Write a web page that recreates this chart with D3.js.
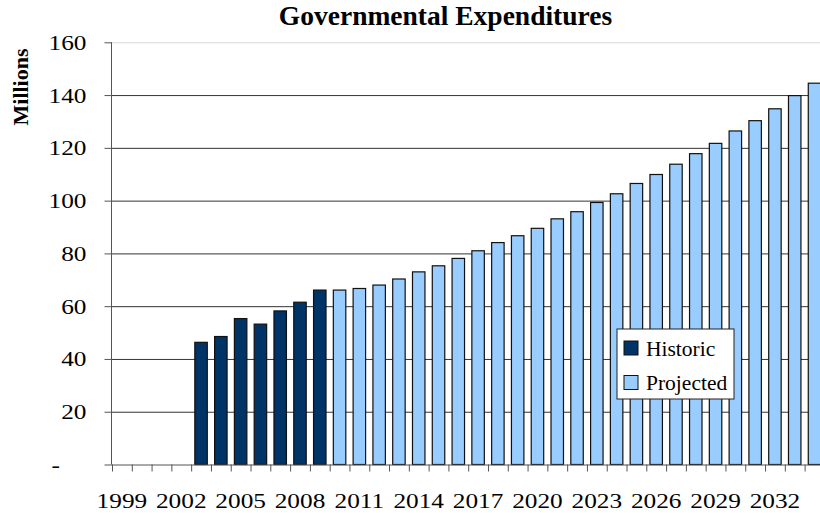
<!DOCTYPE html>
<html>
<head>
<meta charset="utf-8">
<script src="https://cdn.jsdelivr.net/npm/d3@7"></script>
<style>
  body { margin: 0; background: #fff; }
  text { font-family: "Liberation Serif", "Times New Roman", serif; fill: #000; }
</style>
</head>
<body>
<div id="chart"></div>
<script>
// data
var years = [1999, 2000, 2001, 2002, 2003, 2004, 2005, 2006, 2007, 2008, 2009,
  2010, 2011, 2012, 2013, 2014, 2015, 2016, 2017, 2018, 2019, 2020, 2021,
  2022, 2023, 2024, 2025, 2026, 2027, 2028, 2029, 2030, 2031, 2032, 2033, 2034];
var historicYears = [2003, 2004, 2005, 2006, 2007, 2008, 2009];
var historicValues = [46.3, 48.5, 55.3, 53.2, 58.2, 61.5, 66.1];
var projectedYears = [2010, 2011, 2012, 2013, 2014, 2015, 2016, 2017, 2018, 2019,
  2020, 2021, 2022, 2023, 2024, 2025, 2026, 2027, 2028, 2029,
  2030, 2031, 2032, 2033, 2034];
var projectedValues = [66.1, 66.7, 68.0, 70.3, 73.0, 75.3, 78.1, 81.0, 84.1, 86.7,
  89.5, 93.1, 95.8, 99.3, 102.6, 106.5, 109.9, 113.8, 117.8, 121.7,
  126.4, 130.3, 134.8, 139.8, 144.5];
var yTicks = [0, 20, 40, 60, 80, 100, 120, 140, 160];
var xLabelYears = [1999, 2002, 2005, 2008, 2011, 2014, 2017, 2020, 2023, 2026, 2029, 2032];

var svgWidth = 820;
var svgHeight = 513;
var margin = { top: 42.3, left: 112 };
var chartWidth = 712.4;
var chartHeight = 464.5 - margin.top;
var tickFont = 22;
var stretch = 1.15; // tick labels in the picture are a bit wide

var svg = d3.select("#chart")
  .append("svg")
  .attr("width", svgWidth)
  .attr("height", svgHeight);

var chartGroup = svg.append("g")
  .attr("transform", `translate(${margin.left}, ${margin.top})`);

var xBand = d3.scaleBand()
  .domain(years)
  .range([0, chartWidth])
  .paddingInner(0.37)
  .paddingOuter(0.185);

var xIdx = d3.scaleLinear()
  .domain([0, years.length])
  .range([0, chartWidth]);

var yLinearScale = d3.scaleLinear()
  .domain([0, 160])
  .range([chartHeight, 0]);

// gridlines
var grid = chartGroup.append("g")
  .call(d3.axisLeft(yLinearScale).tickValues(yTicks.slice(1)).tickSize(-chartWidth).tickFormat(""));
grid.select(".domain").remove();
grid.selectAll(".tick line")
  .attr("stroke", d => d === 160 ? "#d8d8d8" : "#333")
  .attr("stroke-width", 1);

// bars
var bars = [];
historicYears.forEach((yr, i) => bars.push({ year: yr, value: historicValues[i], type: "h" }));
projectedYears.forEach((yr, i) => bars.push({ year: yr, value: projectedValues[i], type: "p" }));

chartGroup.selectAll("rect.bar")
  .data(bars)
  .enter()
  .append("rect")
  .attr("class", "bar")
  .attr("x", d => xBand(d.year))
  .attr("y", d => yLinearScale(d.value))
  .attr("width", xBand.bandwidth())
  .attr("height", d => chartHeight - yLinearScale(d.value))
  .attr("fill", d => d.type === "h" ? "#003366" : "#99ccff")
  .attr("stroke", "#111")
  .attr("stroke-width", 1.2);

// y axis
var leftAxis = chartGroup.append("g")
  .call(d3.axisLeft(yLinearScale)
    .tickValues(yTicks)
    .tickSize(7.5)
    .tickPadding(18.5)
    .tickFormat(d => d === 0 ? "-" : d));
leftAxis.select(".domain").attr("stroke", "#555").attr("d", `M-0.5,0V${chartHeight}`);
leftAxis.selectAll(".tick line").attr("stroke", "#555");
leftAxis.selectAll(".tick text")
  .attr("font-size", tickFont + "px")
  .attr("font-family", "Liberation Serif, serif")
  .attr("transform", `scale(${stretch},1)`)
  .attr("x", d => (d === 0 ? -52 : -25.5) / stretch);

// x axis ticks at category boundaries
var bottomTicks = chartGroup.append("g")
  .attr("transform", `translate(0, ${chartHeight})`)
  .call(d3.axisBottom(xIdx).tickValues(d3.range(years.length + 1)).tickSize(7).tickFormat(""));
bottomTicks.select(".domain").attr("stroke", "#555").attr("d", `M0,0.5H${chartWidth}`);
bottomTicks.selectAll(".tick line").attr("stroke", "#555");

// x labels
var bottomLabels = chartGroup.append("g")
  .attr("transform", `translate(0, ${chartHeight})`)
  .call(d3.axisBottom(xBand).tickValues(xLabelYears).tickSize(0).tickPadding(28));
bottomLabels.select(".domain").remove();
bottomLabels.selectAll(".tick text")
  .attr("font-size", tickFont + "px")
  .attr("font-family", "Liberation Serif, serif")
  .attr("transform", `scale(${stretch},1)`);

// title
svg.append("text")
  .attr("x", 445.5)
  .attr("y", 24.5)
  .attr("text-anchor", "middle")
  .attr("font-size", "27.5px")
  .attr("font-weight", "bold")
  .text("Governmental Expenditures");

// y axis label
svg.append("text")
  .attr("transform", "translate(28, 87) rotate(-90)")
  .attr("text-anchor", "middle")
  .attr("font-size", "22px")
  .attr("font-weight", "bold")
  .text("Millions");

// legend
var legend = svg.append("g").attr("transform", "translate(617, 329)");
legend.append("rect")
  .attr("width", 117)
  .attr("height", 70)
  .attr("fill", "#fff")
  .attr("stroke", "#222")
  .attr("stroke-width", 1);

var legendItems = [
  { label: "Historic", color: "#003366", y: 12 },
  { label: "Projected", color: "#99ccff", y: 46.5 }
];
legendItems.forEach(function(item) {
  legend.append("rect")
    .attr("x", 7)
    .attr("y", item.y)
    .attr("width", 14)
    .attr("height", 14)
    .attr("fill", item.color)
    .attr("stroke", "#111")
    .attr("stroke-width", 1);
  legend.append("text")
    .attr("x", 29)
    .attr("y", item.y + 14.5)
    .attr("font-size", "21.5px")
    .text(item.label);
});
</script>
</body>
</html>
